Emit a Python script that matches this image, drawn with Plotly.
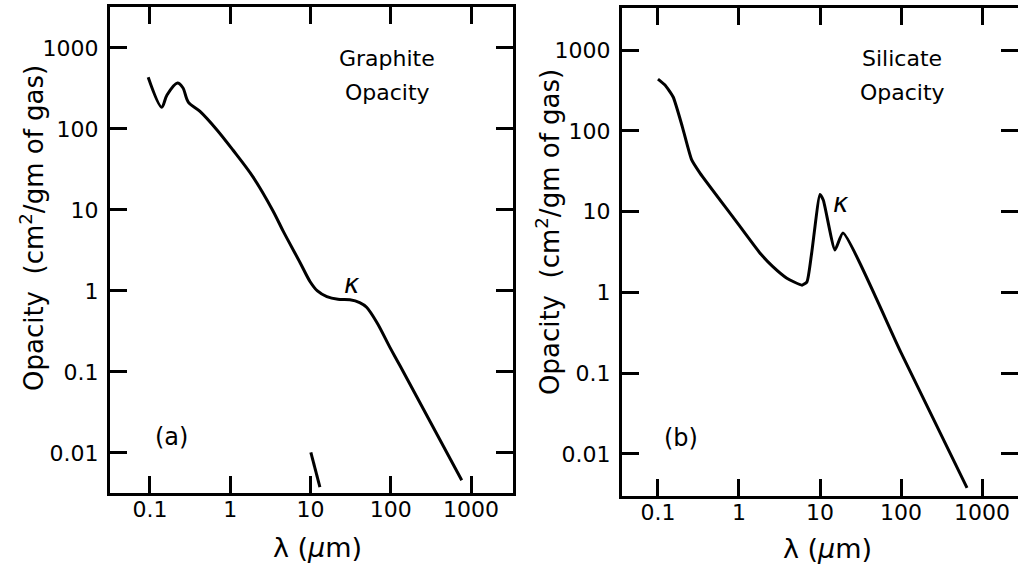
import plotly.graph_objects as go

# ---- data ----
graphite_lambda = [0.095, 0.14, 0.163, 0.22, 0.257, 0.30, 0.42, 0.68, 1.08, 1.9, 3.4,
                   4.6, 7.4, 9.9, 12.2, 16, 22, 31, 41, 50, 68, 98, 130, 766]
graphite_kappa = [435, 186, 263, 370, 323, 215, 165, 98, 55, 26, 9.8,
                  5.4, 2.25, 1.3, 1.0, 0.85, 0.79, 0.78, 0.72, 0.63, 0.40, 0.20, 0.12, 0.0046]

silicate_lambda = [0.1, 0.122, 0.154, 0.20, 0.26, 0.33, 0.84, 1.8, 2.6, 3.9, 6.0, 6.9,
                   7.9, 10, 11, 15.3, 19.2, 100, 653]
silicate_kappa = [437, 369, 262, 112, 44, 30, 8.6, 3.1, 2.1, 1.5, 1.23, 1.35,
                  3.1, 16.3, 13.8, 3.35, 5.43, 0.18, 0.0038]

slash_lambda = [10.1, 13.1]
slash_kappa = [0.0102, 0.0038]

x_tickvals = [0.1, 1, 10, 100, 1000]
x_ticktext = ["0.1", "1", "10", "100", "1000"]
y_tickvals = [0.01, 0.1, 1, 10, 100, 1000]
y_ticktext = ["0.01", "0.1", "1", "10", "100", "1000"]

W, H = 1018, 566
FONT = "DejaVu Sans"
FS = 22

fig = go.Figure()
fig.add_trace(go.Scatter(x=graphite_lambda, y=graphite_kappa, mode="lines",
                         line=dict(color="black", width=3, shape="spline", smoothing=0.9),
                         xaxis="x", yaxis="y", showlegend=False, hoverinfo="skip"))
fig.add_trace(go.Scatter(x=slash_lambda, y=slash_kappa, mode="lines",
                         line=dict(color="black", width=3),
                         xaxis="x", yaxis="y", showlegend=False, hoverinfo="skip"))
fig.add_trace(go.Scatter(x=silicate_lambda, y=silicate_kappa, mode="lines",
                         line=dict(color="black", width=3, shape="spline", smoothing=0.5),
                         xaxis="x2", yaxis="y2", showlegend=False, hoverinfo="skip"))
fig.add_trace(go.Scatter(x=[1], y=[1], mode="lines", line=dict(width=0),
                         xaxis="x2", yaxis="y3", showlegend=False, hoverinfo="skip"))

common = dict(type="log", showline=True, linecolor="black", linewidth=3,
              ticks="inside", ticklen=17, tickwidth=3, tickcolor="black",
              showgrid=False, zeroline=False,
              tickfont=dict(family=FONT, size=FS, color="black"))

fig.update_layout(
    width=W, height=H,
    margin=dict(l=0, r=0, t=0, b=0),
    paper_bgcolor="white", plot_bgcolor="white",
    font=dict(family=FONT, size=FS, color="black"),
    xaxis=dict(domain=[110 / W, 513 / W], range=[-1.498, 3.523], anchor="y",
               mirror="ticks", tickvals=x_tickvals, ticktext=x_ticktext,
               ticklabelstandoff=-5, **common),
    yaxis=dict(domain=[73 / H, 559 / H], range=[-2.494, 3.506], anchor="x",
               mirror="ticks", tickvals=y_tickvals, ticktext=y_ticktext,
               ticklabelstandoff=4, **common),
    xaxis2=dict(domain=[622 / W, 1.0], range=[-1.444, 3.444], anchor="y2",
                mirror="ticks", tickvals=x_tickvals, ticktext=x_ticktext,
                ticklabelstandoff=-5, **common),
    yaxis2=dict(domain=[70 / H, 558 / H], range=[-2.52, 3.52], anchor="x2",
                mirror=False, tickvals=y_tickvals, ticktext=y_ticktext,
                ticklabelstandoff=4, **common),
    yaxis3=dict(type="log", overlaying="y2", anchor="x2", side="right",
                range=[-2.52, 3.52], showline=False, ticks="inside", ticklen=17,
                tickwidth=3, tickcolor="black", showticklabels=False,
                tickvals=y_tickvals, showgrid=False, zeroline=False),
)

def px_ann(text, x, y, size=FS, angle=0):
    fig.add_annotation(text=text, x=x / W, y=1 - y / H, xref="paper", yref="paper",
                       xanchor="center", yanchor="middle", showarrow=False,
                       textangle=angle, font=dict(family=FONT, size=size, color="black"))

px_ann("Graphite", 387, 59)
px_ann("Opacity", 387, 92)
px_ann("Silicate", 902, 59)
px_ann("Opacity", 902, 92)
px_ann("<i>κ</i>", 352, 284, size=26)
px_ann("<i>κ</i>", 841, 203, size=26)
px_ann("(a)", 171, 437, size=24)
px_ann("(b)", 681, 438, size=24)
px_ann("Opacity\u00a0\u00a0(cm<sup>2</sup>/gm of gas)", 32, 228, size=26, angle=-90)
px_ann("Opacity\u00a0\u00a0(cm<sup>2</sup>/gm of gas)", 548, 232, size=26, angle=-90)
px_ann("λ\u00a0(<i>μ</i>m)", 317, 547, size=27)
px_ann("λ\u00a0(<i>μ</i>m)", 827, 548, size=27)

fig.write_html("out.html", config={"displayModeBar": False},
               post_script="document.body.style.margin='0px';document.body.style.overflow='hidden';")
